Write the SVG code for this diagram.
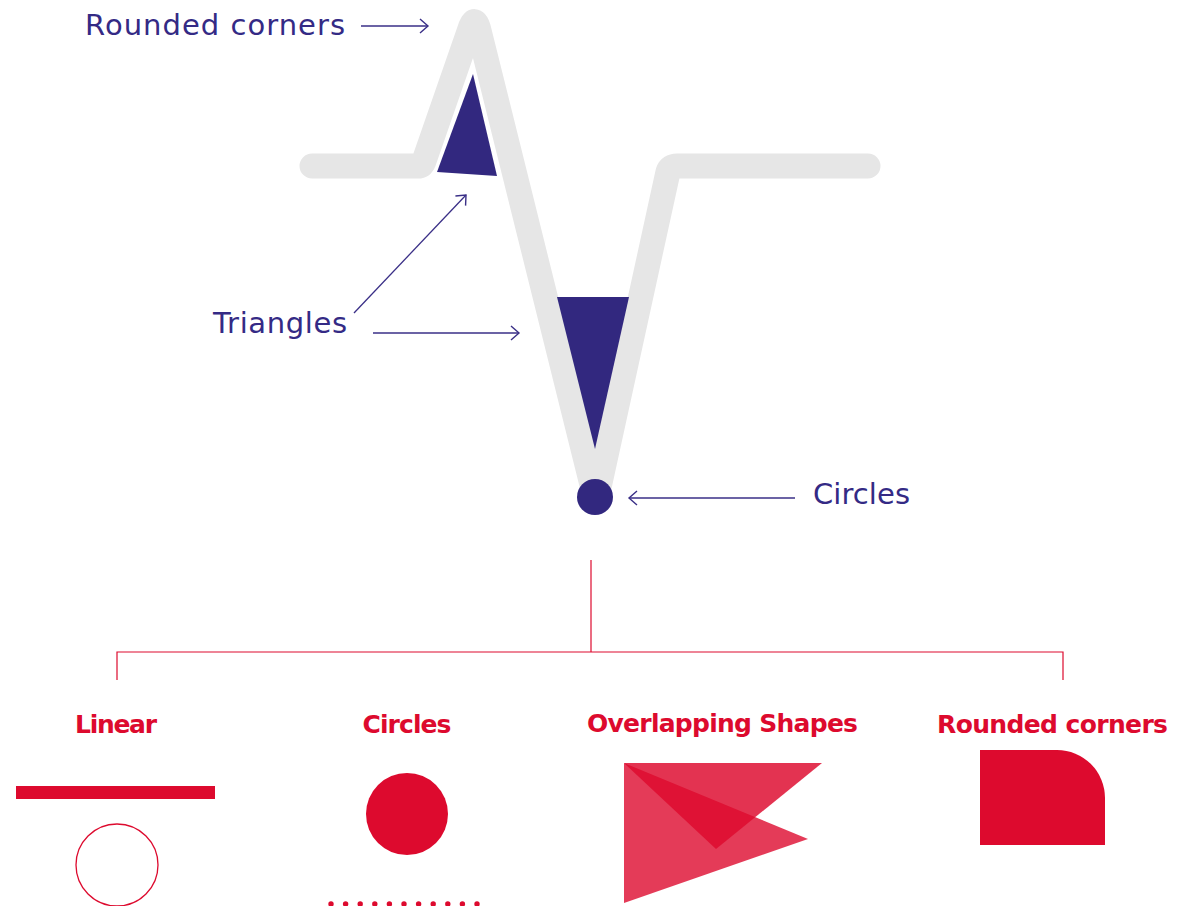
<svg xmlns="http://www.w3.org/2000/svg" width="1189" height="906" viewBox="0 0 1189 906">
<defs>
<style>
.blue{font-family:"DejaVu Sans","Liberation Sans",Arial,sans-serif;font-size:29px;fill:#342a85;}
.red{font-family:"DejaVu Sans","Liberation Sans",Arial,sans-serif;font-size:25px;font-weight:bold;fill:#dd0a2e;text-anchor:middle;}
.arrow{fill:none;stroke:#3a2f87;stroke-width:1.3;marker-end:url(#chev);}
.tree{fill:none;stroke:#dd0a2e;stroke-width:1.2;}
.red-fill{fill:#dd0a2e;}
.navy{fill:#32287f;}
</style>
<marker id="chev" viewBox="-10 -10 20 20" markerWidth="20" markerHeight="20" refX="0" refY="0" orient="auto" markerUnits="userSpaceOnUse">
<path d="M-8,-7 L0,0 L-8,7" fill="none" stroke="#3a2f87" stroke-width="1.4"/>
</marker>
</defs>
<rect width="1189" height="906" fill="#ffffff"/>

<g id="gray-line">
<path d="M312,166 L418,166 Q422,166 424,161 L469.5,30 Q475,13 479,30.5 L596,501 L668,172 Q670,166 677,166 L868,166" fill="none" stroke="#e6e6e6" stroke-width="25" stroke-linecap="round" stroke-linejoin="round"/>
</g>

<g id="triangle-top">
<polygon class="navy" points="473,74 437,172 497,176"/>
</g>
<g id="triangle-bottom">
<polygon class="navy" points="557,297 629,297 595,449"/>
</g>
<g id="circle-node">
<circle class="navy" cx="595" cy="497" r="18"/>
</g>

<g id="label-rounded">
<text class="blue" x="85" y="35" textLength="260">Rounded corners</text>
</g>
<g id="label-triangles">
<text class="blue" x="213" y="333" textLength="134">Triangles</text>
</g>
<g id="label-circles">
<text class="blue" x="813" y="504" textLength="97">Circles</text>
</g>

<g id="connectors">
<line class="arrow" x1="361" y1="26" x2="428" y2="26"/>
<line class="arrow" x1="354" y1="313" x2="466" y2="195"/>
<line class="arrow" x1="373" y1="333" x2="519" y2="333"/>
<line class="arrow" x1="795" y1="498" x2="629" y2="498"/>
<polyline class="tree" points="591,560 591,652"/>
<polyline class="tree" points="117,680 117,652 1063,652 1063,680"/>
</g>

<g id="linear">
<text class="red" x="116" y="733" textLength="82">Linear</text>
<rect class="red-fill" x="16" y="786" width="199" height="13"/>
<circle cx="117" cy="865" r="41" fill="none" stroke="#dd0a2e" stroke-width="1.3"/>
</g>

<g id="circles">
<text class="red" x="407" y="733" textLength="89">Circles</text>
<circle class="red-fill" cx="407" cy="814" r="41"/>
<g class="red-fill">
<circle cx="331" cy="904" r="2.7"/><circle cx="345.6" cy="904" r="2.7"/><circle cx="360.2" cy="904" r="2.7"/><circle cx="374.8" cy="904" r="2.7"/><circle cx="389.4" cy="904" r="2.7"/><circle cx="404" cy="904" r="2.7"/><circle cx="418.6" cy="904" r="2.7"/><circle cx="433.2" cy="904" r="2.7"/><circle cx="447.8" cy="904" r="2.7"/><circle cx="462.4" cy="904" r="2.7"/><circle cx="477" cy="904" r="2.7"/>
</g>
</g>

<g id="overlapping">
<text class="red" x="722.5" y="732" textLength="271">Overlapping Shapes</text>
<polygon points="624,763 624,903 808,839" fill="#dd0a2e" fill-opacity="0.8"/>
<polygon points="624,763 822,763 716,849" fill="#dd0a2e" fill-opacity="0.83"/>
</g>

<g id="rounded">
<text class="red" x="1052.5" y="733" textLength="231">Rounded corners</text>
<path class="red-fill" d="M980,750 H1057 A48,48 0 0 1 1105,798 V845 H980 Z"/>
</g>
</svg>
